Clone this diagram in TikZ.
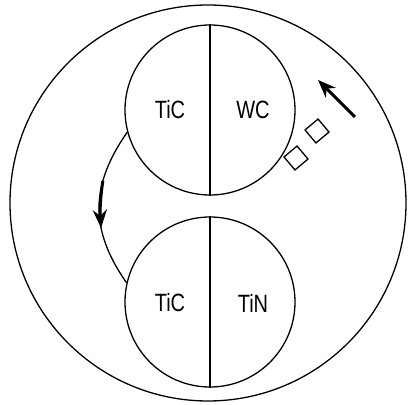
\documentclass[tikz,border=0pt]{standalone}
\usepackage{fontspec}
\usepackage{tikz}
\usetikzlibrary{
  arrows.meta,
  positioning
}
\newfontfamily\phasefont[FakeStretch=0.8]{Liberation Sans}
\tikzset{
    grain/.style={circle, draw, line width=1.3pt, minimum size=170pt, inner sep=0pt},
    phase/.style={font=\fontsize{25}{27}\selectfont\phasefont, inner sep=0pt},
    chip/.style={rectangle, draw, line width=1.3pt, minimum size=17pt, inner sep=0pt, rotate=40},
    fatarrow/.style={line width=3pt, -{Stealth[length=18pt, width=14pt]}}
}

\begin{document}
\begin{tikzpicture}[x=1pt, y=1pt, line width=1.3pt]
    \useasboundingbox (0,0) rectangle (408,405);
    % matrix
    \node[circle, draw, minimum size=396pt, inner sep=0pt] (matrix) at (208,202) {};
    % grains
    \node[grain] (upper) at (210,295) {};
    \node[grain] (lower) at (210,103) {};
    \draw (upper.north) -- (upper.south);
    \draw (lower.north) -- (lower.south);
    \node[phase] (tic1) at (170,295) {TiC};
    \node[phase] (wc) at (253,295) {WC};
    \node[phase] (tic2) at (170,102) {TiC};
    \node[phase] (tin) at (253,102) {TiN};
    % diffusion path
    \draw (upper.195) to[out=235, in=125, looseness=1.1]
        coordinate[pos=0.32] (a1) coordinate[pos=0.64] (a2) (lower.167);
    \draw[fatarrow] (a1) to[bend right=6] (a2);
    % dissolving grains
    \node[chip] (chip1) at (317,274) {};
    \node[chip] (chip2) at (296,247) {};
    \coordinate (tail) at (355,288);
    \coordinate (tip) at (318,325);
    \draw[fatarrow] (tail) -- (tip);
\end{tikzpicture}
\end{document}
